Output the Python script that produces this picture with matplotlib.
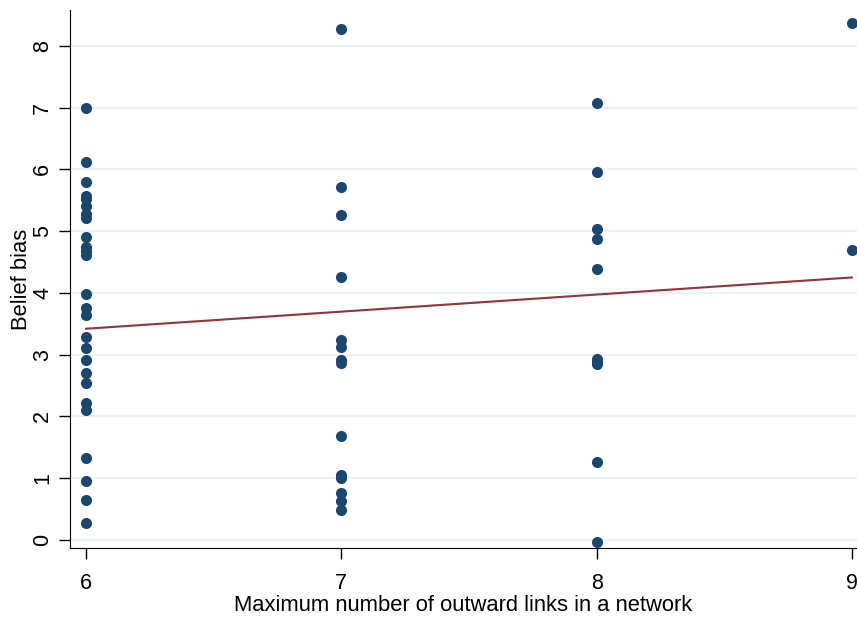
import matplotlib
matplotlib.use("Agg")
import matplotlib.pyplot as plt

plt.rcParams['font.family'] = ['Liberation Sans', 'DejaVu Sans']

# data
x6 = [6.99, 6.12, 5.80, 5.57, 5.52, 5.40, 5.28, 5.22, 4.90, 4.75, 4.68, 4.62,
      3.98, 3.76, 3.64, 3.28, 3.10, 2.92, 2.70, 2.54, 2.22, 2.10, 1.32, 0.95, 0.65, 0.28]
x7 = [8.28, 5.71, 5.26, 4.26, 3.24, 3.13, 2.92, 2.86, 1.69, 1.05, 1.00, 0.76, 0.63, 0.49]
x8 = [7.07, 5.96, 5.04, 4.87, 4.39, 2.93, 2.88, 2.85, 1.26, -0.03]
x9 = [8.37, 4.70]
groups = [6, 7, 8, 9]
values = [x6, x7, x8, x9]

fit_x = [6, 9]
fit_y = [3.42, 4.25]

fig = plt.figure(figsize=(8.57, 6.18), dpi=100)
ax = fig.add_axes([70 / 857, 1 - 548 / 618, 787 / 857, 538 / 618])

for g, vals in zip(groups, values):
    ax.plot([g] * len(vals), vals, 'o', color='#1a476f', markersize=8,
            markeredgewidth=0, zorder=3, clip_on=False)
ax.plot(fit_x, fit_y, color='#90353b', linewidth=1.5, zorder=2)

ax.set_xlim(5.937, 9.02)
ax.set_ylim(-0.13, 8.58)
ax.set_xticks(groups)
ax.set_yticks(range(0, 9))
ax.grid(axis='y', color='#eaf2f3', linewidth=1.5)
ax.set_axisbelow(True)
for s in ['top', 'right']:
    ax.spines[s].set_visible(False)
ax.tick_params(axis='both', length=8, width=1, labelsize=15.5)
ax.tick_params(axis='x', pad=10)
ax.tick_params(axis='y', pad=4)
for lbl in ax.get_yticklabels():
    lbl.set_rotation(90)
    lbl.set_va('center')
ax.set_xlabel('Maximum number of outward links in a network', fontsize=15.8, labelpad=1)
ax.set_ylabel('Belief bias', fontsize=15.8, labelpad=0)

fig.savefig('out.png', dpi=100)
